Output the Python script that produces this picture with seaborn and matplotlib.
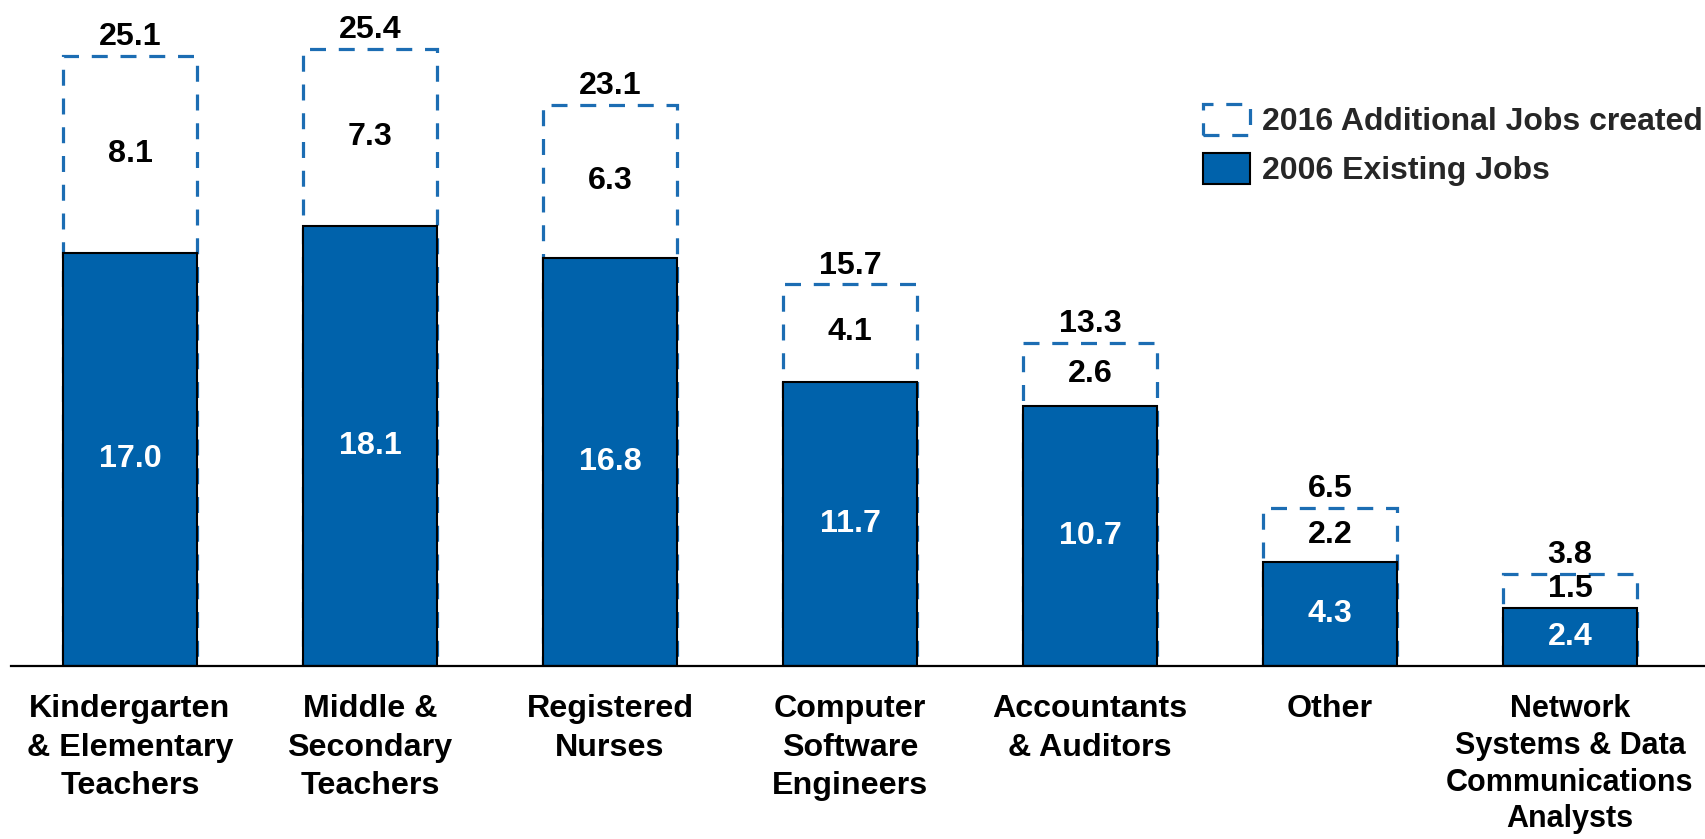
import matplotlib
matplotlib.use("Agg")
import matplotlib.pyplot as plt
import seaborn as sns
import pandas as pd
from matplotlib.patches import Patch

sns.set_theme(style="white")
plt.rcParams['font.family'] = ['Liberation Sans', 'DejaVu Sans']

categories = ["Kindergarten\n& Elementary\nTeachers", "Middle &\nSecondary\nTeachers",
              "Registered\nNurses", "Computer\nSoftware\nEngineers", "Accountants\n& Auditors",
              "Other", "Network\nSystems & Data\nCommunications\nAnalysts"]
existing_2006 = [17.0, 18.1, 16.8, 11.7, 10.7, 4.3, 2.4]
additional_2016 = [8.1, 7.3, 6.3, 4.1, 2.6, 2.2, 1.5]
totals = [25.1, 25.4, 23.1, 15.7, 13.3, 6.5, 3.8]

df = pd.DataFrame({"cat": categories, "existing": existing_2006,
                   "additional": additional_2016, "total": totals})

BLUE = "#0062AB"
DASH = "#1C6DB3"

fig = plt.figure(figsize=(17.06, 8.39), dpi=100)
ax = fig.add_axes([11/1706, (839-666)/839, 1-11/1706, 666/839])

bw = 0.558
sns.barplot(data=df, x="cat", y="total", ax=ax, color="white", width=bw,
            edgecolor=DASH, linewidth=2.3, linestyle=(0, (5, 4)), saturation=1)
sns.barplot(data=df, x="cat", y="existing", ax=ax, color=BLUE, width=bw,
            edgecolor="black", linewidth=1.5, saturation=1)

FS = 23.2
for i, (e, a, t) in enumerate(zip(existing_2006, additional_2016, totals)):
    ax.text(i, e / 2, f"{e:.1f}", ha="center", va="center", color="white",
            fontsize=FS, fontweight="bold")
    ax.text(i, e + a / 2, f"{a:.1f}", ha="center", va="center", color="black",
            fontsize=FS, fontweight="bold")
    ax.text(i, t + 0.15, f"{t:.1f}", ha="center", va="bottom", color="black",
            fontsize=FS, fontweight="bold")

ax.set_xlim((11 - 130) / 240, (1706 - 130) / 240)
ax.set_ylim(0, 666 / 24.3)
ax.set_xlabel("")
ax.set_ylabel("")
ax.set_yticks([])
ax.set_xticks(range(len(categories)))
ax.set_xticklabels(categories, fontsize=23.2, fontweight="bold", color="black",
                   linespacing=1.38)
ax.get_xticklabels()[-1].set_fontsize(22.0)
ax.get_xticklabels()[-1].set_linespacing(1.3)
ax.tick_params(axis="x", length=0, pad=20)
for s in ["top", "left", "right"]:
    ax.spines[s].set_visible(False)
ax.spines["bottom"].set_color("black")
ax.spines["bottom"].set_linewidth(1.6)

handles = [Patch(facecolor="white", edgecolor=DASH, linewidth=2.3, linestyle=(0, (5, 4))),
           Patch(facecolor=BLUE, edgecolor="black", linewidth=1.5)]
leg = ax.legend(handles, ["2016 Additional Jobs created", "2006 Existing Jobs"],
                loc="upper left", bbox_to_anchor=(1203/1706, 1 - 104/839), bbox_transform=fig.transFigure,
                frameon=False, prop={"weight": "bold", "size": 23},
                handlelength=1.47, handleheight=1.1, handletextpad=0.37, labelspacing=0.5,
                borderpad=0, borderaxespad=0)

fig.savefig("out.png", dpi=100)
